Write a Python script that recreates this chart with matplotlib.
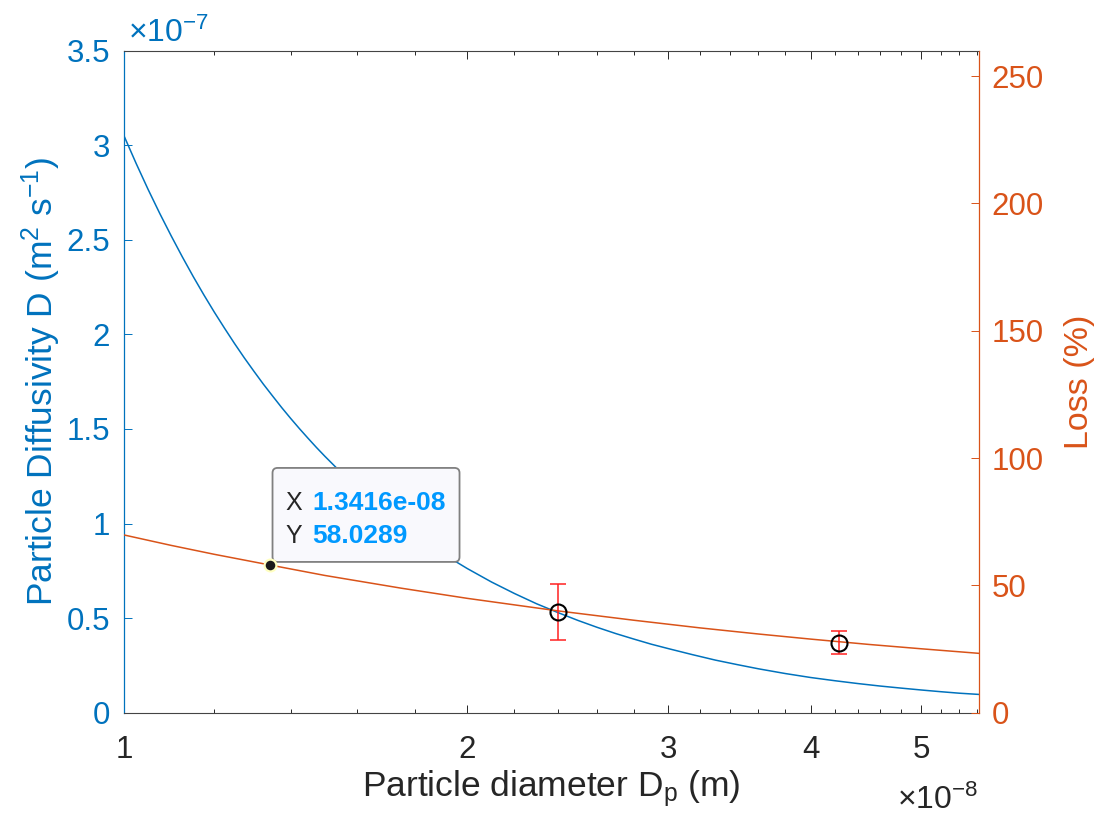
import numpy as np
import matplotlib
matplotlib.use("Agg")
import matplotlib.pyplot as plt
import matplotlib.ticker as mticker
import matplotlib.transforms as mtransforms
from matplotlib.patches import FancyBboxPatch

plt.rcParams['font.family'] = ['Liberation Sans', 'DejaVu Sans']
plt.rcParams['mathtext.fontset'] = 'custom'
plt.rcParams['mathtext.rm'] = 'Liberation Sans'
plt.rcParams['mathtext.it'] = 'Liberation Sans:italic'
plt.rcParams['mathtext.bf'] = 'Liberation Sans:bold'

# Diffusivity curve: particle diameter (m) vs D (m^2/s)
dp = np.array([1.0, 1.025, 1.05, 1.075, 1.1, 1.125, 1.15, 1.175, 1.2, 1.225,
               1.25, 1.275, 1.3, 1.325, 1.35, 1.375, 1.4, 1.425, 1.45, 1.475,
               1.5, 1.55, 1.6, 1.65, 1.7, 1.75, 1.8, 1.85, 1.9, 1.95, 2.0,
               2.1, 2.2, 2.3, 2.4, 2.5, 2.6, 2.7, 2.8, 2.9, 3.0, 3.15, 3.3,
               3.45, 3.6, 3.8, 4.0, 4.2, 4.4, 4.6, 4.8, 5.0, 5.2, 5.4,
               5.62]) * 1e-8
diff = np.array([3.050, 2.903, 2.766, 2.639, 2.521, 2.410, 2.306, 2.209, 2.118,
                 2.033, 1.952, 1.876, 1.805, 1.737, 1.674, 1.613, 1.556, 1.502,
                 1.451, 1.402, 1.356, 1.270, 1.191, 1.120, 1.055, 0.996, 0.941,
                 0.891, 0.845, 0.802, 0.762, 0.691, 0.630, 0.576, 0.530, 0.488,
                 0.451, 0.418, 0.389, 0.362, 0.339, 0.307, 0.278, 0.254, 0.232,
                 0.207, 0.186, 0.169, 0.154, 0.141, 0.130, 0.120, 0.111, 0.103,
                 0.0965]) * 1e-7

# Predicted loss curve (%)
dp_loss = np.array([1.0, 1.1, 1.2, 1.3416, 1.5, 1.75, 2.0, 2.4, 2.8, 3.2,
                    3.6, 4.0, 4.5, 5.0, 5.62]) * 1e-8
loss = np.array([69.8, 65.7, 62.2, 58.03, 53.9, 48.9, 44.9, 40.0, 36.3, 33.3,
                 30.9, 28.9, 26.8, 25.1, 23.3])

# Measured loss with error bars
dp_meas = np.array([2.40, 4.24]) * 1e-8
loss_meas = np.array([39.6, 27.5])
loss_err = np.array([11.1, 4.4])

# Data tip on the loss curve
tip_x = 1.3416e-8
tip_y = 58.0289

BLUE = '#0072BD'
ORANGE = '#D95319'
GRAY = '#262626'

fig = plt.figure(figsize=(11.02, 8.24), dpi=100)
ax1 = fig.add_axes([0.1125, 0.1351, 0.7759, 0.8034])
ax2 = ax1.twinx()

ax1.plot(dp, diff, color=BLUE, lw=1.1)
ax2.plot(dp_loss, loss, color=ORANGE, lw=1.1)
ax2.errorbar(dp_meas, loss_meas, yerr=loss_err, fmt='none', ecolor='#FF2020',
             elinewidth=1.1, capsize=5.8, capthick=1.1, zorder=4)
ax2.plot(dp_meas, loss_meas, 'o', ms=11.5, mfc='none', mec='black', mew=1.5,
         zorder=5)

# x axis (log)
ax1.set_xscale('log')
ax1.set_xlim(1e-8, 5.62e-8)
ax1.xaxis.set_major_locator(mticker.FixedLocator(np.array([1, 2, 3, 4, 5]) * 1e-8))
ax1.xaxis.set_minor_locator(mticker.FixedLocator(np.arange(1.2, 5.61, 0.2) * 1e-8))
ax1.xaxis.set_major_formatter(mticker.FuncFormatter(lambda v, p: f"{v / 1e-8:g}"))
ax1.xaxis.set_minor_formatter(mticker.NullFormatter())

ax1.set_ylim(0, 3.5e-7)
ax1.yaxis.set_major_locator(mticker.MultipleLocator(0.5e-7))
ax1.yaxis.set_major_formatter(mticker.FuncFormatter(lambda v, p: f"{v / 1e-7:g}"))
ax2.set_ylim(0, 260)
ax2.yaxis.set_major_locator(mticker.FixedLocator([0, 50, 100, 150, 200, 250]))

ax1.tick_params(axis='x', which='major', direction='in', length=5.8, width=0.7,
                colors=GRAY, labelsize=22.5, pad=16, top=True)
ax1.tick_params(axis='x', which='minor', direction='in', length=2.9, width=0.7,
                colors=GRAY, top=True)
ax1.tick_params(axis='y', direction='in', length=5.8, width=0.7, colors=BLUE,
                labelsize=22.5, pad=10)
ax2.tick_params(axis='y', direction='in', length=5.8, width=0.7, colors=ORANGE,
                labelsize=22.5, pad=9)

for s in ['top', 'bottom']:
    ax1.spines[s].set_color('#444444')
    ax1.spines[s].set_linewidth(0.8)
    ax2.spines[s].set_visible(False)
ax1.spines['left'].set_color(BLUE)
ax1.spines['left'].set_linewidth(0.9)
ax1.spines['right'].set_visible(False)
ax2.spines['left'].set_visible(False)
ax2.spines['right'].set_color(ORANGE)
ax2.spines['right'].set_linewidth(0.9)

ax1.set_ylabel(r'Particle Diffusivity D (m$^2$ s$^{-1}$)', color=BLUE, fontsize=25.5)
ax1.yaxis.set_label_coords(-0.0715, 0.5)
ax2.set_ylabel('Loss (%)', color=ORANGE, fontsize=24.5)
ax2.yaxis.set_label_coords(1.0994, 0.5)
ax1.set_xlabel(r'Particle diameter D$_\mathregular{p}$ (m)', color=GRAY, fontsize=25.5)
ax1.xaxis.set_label_coords(0.5, -0.084)

# exponent labels
ax1.annotate('×10$^{-7}$', xy=(0, 1), xycoords='axes fraction', xytext=(4, 9),
             textcoords='offset pixels', ha='left', va='baseline',
             fontsize=23, color=BLUE)
ax1.annotate('×10$^{-8}$', xy=(1, 0), xycoords='axes fraction', xytext=(-1, -96),
             textcoords='offset pixels', ha='right', va='baseline',
             fontsize=23, color=GRAY)

# data tip box, laid out in pixels relative to the tip point
tip_trans = mtransforms.ScaledTranslation(tip_x, tip_y, ax2.transData)
box = FancyBboxPatch((3, 3), 187, 94, boxstyle='round,pad=0,rounding_size=5',
                     transform=tip_trans, fc='#F9F9FD', ec='#808080', lw=1.3,
                     zorder=10, clip_on=False)
ax2.add_patch(box)
ax2.text(16, 62, 'X', transform=tip_trans, ha='left', va='center',
         fontsize=18, color=GRAY, zorder=11)
ax2.text(43, 62, f"{tip_x:.4e}", transform=tip_trans, ha='left', va='center',
         fontsize=19, color='#0099FF', fontweight='bold', zorder=11)
ax2.text(16, 29, 'Y', transform=tip_trans, ha='left', va='center',
         fontsize=18, color=GRAY, zorder=11)
ax2.text(43, 29, f"{tip_y:.4f}", transform=tip_trans, ha='left', va='center',
         fontsize=19, color='#0099FF', fontweight='bold', zorder=11)
ax2.plot(tip_x, tip_y, 'o', ms=8.5, mfc='#1a1a1a', mec='#FFFFC0', mew=1.6,
         zorder=12, clip_on=False)

fig.savefig('out.png', dpi=100)
